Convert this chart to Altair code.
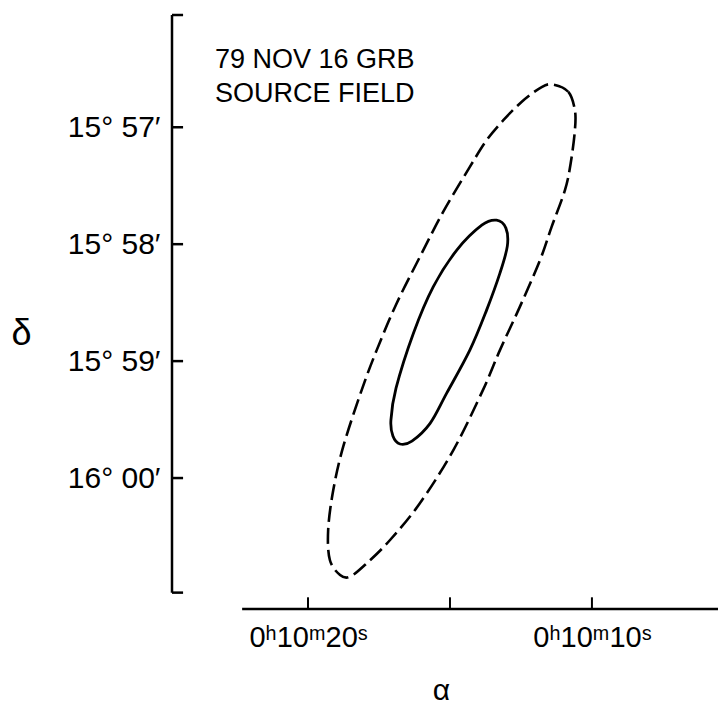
import altair as alt
import pandas as pd

# ---- data (RA in seconds of 0h10m, Dec in arcmin past 15 deg) ----
outer_ra = [11.36, 10.83, 10.60, 10.60, 10.75, 10.95, 11.42, 11.83, 12.54, 13.24,
            13.84, 14.88, 16.06, 17.11, 17.93, 18.52, 18.87, 19.23, 19.29, 19.11,
            18.76, 18.11, 17.58, 16.88, 16.06, 15.24, 14.30, 13.71, 13.12, 12.48, 11.77]
outer_dec = [56.635, 56.698, 56.855, 57.026, 57.310, 57.538, 57.852, 58.137, 58.536, 58.906,
             59.248, 59.761, 60.216, 60.530, 60.729, 60.844, 60.829, 60.701, 60.444, 60.103,
             59.732, 59.248, 58.906, 58.507, 58.109, 57.724, 57.339, 57.111, 56.940, 56.784, 56.656]

inner_ra = [13.36, 13.03, 12.98, 13.24, 13.71, 14.30, 15.12, 15.70, 16.34, 16.76,
            17.01, 17.08, 16.90, 16.29, 15.59, 14.76, 13.88]
inner_dec = [57.795, 57.863, 58.017, 58.248, 58.564, 58.906, 59.276, 59.532, 59.684, 59.709,
             59.641, 59.504, 59.231, 58.763, 58.365, 58.051, 57.838]

dec_tick_values = [57, 58, 59, 60]
dec_tick_labels = ["15° 57′", "15° 58′", "15° 59′", "16° 00′"]
dec_frame_ends = [56.04, 60.98]          # top / bottom of the declination frame line

ra_tick_values = [20, 15, 10]
ra_label_values = [20, 10]
ra_tick_labels = ["0ʰ10ᵐ20ˢ", "0ʰ10ᵐ10ˢ"]
ra_axis_start = 22.32                     # left end of the RA axis line

X_DOMAIN = [5.56, 24.79]
Y_DOMAIN = [56.04, 61.12]
RA_AXIS_DEC = 61.12                       # declination at which the RA axis is drawn

title_text = "79 NOV 16 GRB\nSOURCE FIELD"

FONT = "Liberation Sans"

# ---- frames ----
outer_df = pd.DataFrame({"ra": outer_ra, "dec": outer_dec, "i": range(len(outer_ra))})
inner_df = pd.DataFrame({"ra": inner_ra, "dec": inner_dec, "i": range(len(inner_ra))})

x_left = X_DOMAIN[1]
tick_len_ra = 0.39      # horizontal tick length in seconds of RA
tick_len_dec = 0.10     # vertical tick length in arcmin

yline_df = pd.DataFrame({"ra": [x_left], "dec": [dec_frame_ends[0]], "dec2": [dec_frame_ends[1]]})
yticks_df = pd.DataFrame({"dec": dec_frame_ends[:1] + dec_tick_values + dec_frame_ends[1:]})
yticks_df["ra"] = x_left
yticks_df["ra2"] = x_left - tick_len_ra
xline_df = pd.DataFrame({"ra": [ra_axis_start], "ra2": [X_DOMAIN[0]], "dec": [RA_AXIS_DEC]})
xticks_df = pd.DataFrame({"ra": ra_tick_values})
xticks_df["dec"] = RA_AXIS_DEC
xticks_df["dec2"] = RA_AXIS_DEC - tick_len_dec

x_expr = " : ".join(
    [f"datum.value == {v} ? '{l}'" for v, l in zip(ra_label_values, ra_tick_labels)] + ["''"]
)
y_expr = " : ".join(
    [f"datum.value == {v} ? '{l}'" for v, l in zip(dec_tick_values, dec_tick_labels)] + ["''"]
)

xscale = alt.Scale(domain=X_DOMAIN, reverse=True, nice=False, zero=False)
yscale = alt.Scale(domain=Y_DOMAIN, reverse=True, nice=False, zero=False)

xaxis = alt.Axis(values=ra_label_values, labelExpr=x_expr, domain=False, ticks=False,
                 tickSize=0, grid=False, labelPadding=14, labelFontSize=29,
                 labelFont=FONT, labelColor="black", labelFlush=False,
                 title="α", titleFont=FONT, titleFontSize=30, titleFontWeight="normal",
                 titleColor="black", titleX=269, titleY=81, titleBaseline="middle",
                 titleAlign="center")
yaxis = alt.Axis(values=dec_tick_values, labelExpr=y_expr, domain=False, ticks=False,
                 tickSize=0, grid=False, labelPadding=12, labelFontSize=30,
                 labelFont=FONT, labelColor="black", labelBaseline="middle",
                 title="δ", titleFont=FONT, titleFontSize=36, titleFontWeight="normal",
                 titleColor="black", titleAngle=0, titleX=-151, titleY=318,
                 titleBaseline="middle", titleAlign="center")

X = alt.X("ra:Q", scale=xscale, axis=xaxis)
Y = alt.Y("dec:Q", scale=yscale, axis=yaxis)

outer = alt.Chart(outer_df).mark_line(
    interpolate="cardinal-closed", color="black", strokeWidth=2.6, strokeDash=[16, 6]
).encode(x=X, y=Y, order="i:Q")

inner = alt.Chart(inner_df).mark_line(
    interpolate="cardinal-closed", color="black", strokeWidth=2.8
).encode(x=X, y=Y, order="i:Q")

yline = alt.Chart(yline_df).mark_rule(color="black", strokeWidth=2.5).encode(
    x=X, y=Y, y2="dec2:Q")
yticks = alt.Chart(yticks_df).mark_rule(color="black", strokeWidth=2.5).encode(
    x=X, x2="ra2:Q", y=Y)
xline = alt.Chart(xline_df).mark_rule(color="black", strokeWidth=2.5).encode(
    x=X, x2="ra2:Q", y=Y)
xticks = alt.Chart(xticks_df).mark_rule(color="black", strokeWidth=2).encode(
    x=X, y=Y, y2="dec2:Q")

title = alt.Chart(pd.DataFrame({"t": [title_text]})).mark_text(
    align="left", baseline="alphabetic", font=FONT, fontSize=27, color="black",
    lineBreak="\n", lineHeight=34
).encode(text="t:N", x=alt.value(43), y=alt.value(53))

chart = alt.layer(outer, inner, yline, yticks, xline, xticks, title).properties(
    width=546, height=594,
    autosize=alt.AutoSizeParams(type="none"),
    padding={"left": 164, "top": 7, "right": 0, "bottom": 96},
).configure_view(stroke=None)

chart.save("out.html", embed_options={"renderer": "svg", "actions": False})
